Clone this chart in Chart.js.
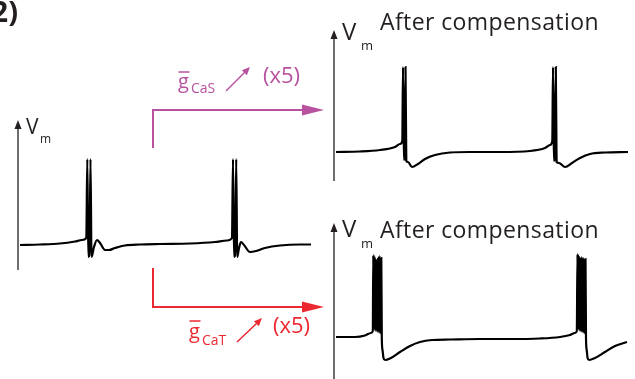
<!DOCTYPE html>
<html>
<head>
<meta charset="utf-8">
<script src="https://cdn.jsdelivr.net/npm/chart.js@4.4.1/dist/chart.umd.min.js"></script>
<style>
  body { margin: 0; background: #fff; }
  #fig { position: relative; width: 635px; height: 379px; overflow: hidden; font-family: "Open Sans", sans-serif; }
  .panel { position: absolute; }
  #labels { position: absolute; left: 0; top: 0; pointer-events: none; }
</style>
</head>
<body>
<div id="fig">
  <div class="panel" style="left:14px;top:120px;width:299px;height:150px"><canvas id="ctrl"></canvas></div>
  <div class="panel" style="left:330px;top:30px;width:300px;height:151px"><canvas id="cas"></canvas></div>
  <div class="panel" style="left:330px;top:223px;width:300px;height:156px"><canvas id="cat"></canvas></div>

  <svg id="labels" width="635" height="379" font-family="Open Sans, sans-serif">
    <text x="18" y="22" text-anchor="end" font-size="29" font-weight="bold" fill="#231f20">2)</text>

    <text x="26" y="134" font-size="21" fill="#231f20">V</text>
    <text x="40" y="143" font-size="12" fill="#231f20">m</text>

    <text x="342" y="40" font-size="24" fill="#231f20">V</text>
    <text x="361" y="50" font-size="13" fill="#231f20">m</text>
    <text x="380" y="30" font-size="23" letter-spacing="0.4" fill="#231f20">After compensation</text>

    <text x="342" y="237" font-size="24" fill="#231f20">V</text>
    <text x="361" y="248" font-size="13" fill="#231f20">m</text>
    <text x="380" y="238" font-size="23" letter-spacing="0.4" fill="#231f20">After compensation</text>

    <!-- CaS branch -->
    <g fill="#b8529f" stroke="#b8529f">
      <path d="M153,148 V110 H304" fill="none" stroke-width="2"/>
      <polygon points="324,110 302,104.5 302,115.5" stroke="none"/>
      <text x="178" y="88" font-size="20" stroke="none">g</text>
      <line x1="178.5" y1="72" x2="189.5" y2="72" stroke-width="1.5"/>
      <text x="191" y="93" font-size="14" stroke="none">CaS</text>
      <line x1="226" y1="91" x2="244.5" y2="72.5" stroke-width="1.5"/>
      <polygon points="250,67 246.8,75.2 241.9,70.2" stroke="none"/>
      <text x="263" y="83" font-size="22" stroke="none">(x5)</text>
    </g>

    <!-- CaT branch -->
    <g fill="#ec2830" stroke="#ec2830">
      <path d="M153,268 V307 H304" fill="none" stroke-width="2"/>
      <polygon points="324,307 302,301.5 302,312.5" stroke="none"/>
      <text x="189" y="338" font-size="20" stroke="none">g</text>
      <line x1="189.5" y1="321" x2="200.5" y2="321" stroke-width="1.5"/>
      <text x="202" y="345" font-size="14" stroke="none">CaT</text>
      <line x1="237" y1="342" x2="256.5" y2="323.5" stroke-width="1.5"/>
      <polygon points="262,318 258.8,326.2 253.9,321.2" stroke="none"/>
      <text x="273" y="333" font-size="22" stroke="none">(x5)</text>
    </g>
  </svg>
</div>

<script>
// control trace: time (ms) and membrane potential (mV)
const ctrlTime = [20, 220, 420, 570, 640, 683, 693, 703, 715, 725, 735, 760, 790, 820, 870, 910, 970, 1070, 1220, 1420, 1720, 1970, 2090, 2140, 2150, 2160, 2172, 2182, 2192, 2210, 2230, 2260, 2320, 2380, 2470, 2620, 2820, 2930];
const ctrlVm   = [-51, -50.5, -49.5, -47.5, -46, -44, 35, -63, -61, 35, -63, -53, -46, -49, -56, -56, -54, -51.5, -50.5, -50, -49.5, -48, -46.5, -44, 35, -63, -61, 35, -63, -54, -48, -51, -58, -57, -54, -51.5, -50.5, -50.5];

// gCaS x5 after compensation
const casTime = [30, 270, 470, 620, 670, 693, 700, 708, 717, 725, 733, 750, 790, 850, 920, 1020, 1170, 1370, 1670, 1970, 2120, 2170, 2193, 2200, 2208, 2217, 2228, 2236, 2260, 2320, 2390, 2470, 2570, 2720, 2950];
const casVm   = [-50, -49.5, -48, -45, -42, -39, 35, -58, -56, 35, -59, -60, -65, -62, -57, -53, -50.5, -50, -50, -49, -46, -43, -39, 35, -59, -57, 35, -60, -61, -65, -61, -56, -52, -50.5, -50];

// gCaT x5 after compensation (bursting)
const catTime = [30, 220, 320, 380, 398,
  403, 408, 413, 418, 423, 428, 433, 438, 443, 448, 453, 458, 463, 468, 473, 478, 483, 488,
  495, 505, 520, 570, 670, 770, 870, 990, 1170, 1470, 1770, 2070, 2270, 2370, 2420, 2438,
  2445, 2450, 2455, 2460, 2465, 2470, 2475, 2480, 2485, 2490, 2495, 2500, 2505, 2510, 2515, 2520, 2525, 2530,
  2537, 2546, 2560, 2620, 2720, 2820, 2940];
const catVm = [-49, -49, -47.5, -45, -43,
  33, -40, 32, -42, 30, -43, 28, -43, 29, -44, 31, -44, 32, -45, 31, -46, 30, -50,
  -62, -70, -72, -70.5, -64, -58, -54, -52, -51.5, -51, -51, -50.5, -49, -47, -45, -43,
  34, -40, 33, -42, 31, -43, 30, -43, 31, -44, 30, -44, 30, -45, 29, -46, 29, -50,
  -62, -70, -72, -70, -64, -58, -54];

// vertical Vm axis with an arrow head on top
const vmAxis = {
  id: 'vmAxis',
  afterDraw(chart) {
    const { ctx, chartArea: a } = chart;
    ctx.save();
    ctx.strokeStyle = '#231f20';
    ctx.fillStyle = '#231f20';
    ctx.lineWidth = 1.3;
    ctx.beginPath();
    ctx.moveTo(a.left, a.top + 6);
    ctx.lineTo(a.left, a.bottom);
    ctx.stroke();
    ctx.beginPath();
    ctx.moveTo(a.left, a.top);
    ctx.lineTo(a.left - 3.5, a.top + 9);
    ctx.lineTo(a.left + 3.5, a.top + 9);
    ctx.closePath();
    ctx.fill();
    ctx.restore();
  }
};

function trace(id, times, vm, xMin, xMax, yMin, yMax) {
  return new Chart(document.getElementById(id), {
    type: 'line',
    data: {
      datasets: [{
        data: times.map((t, i) => ({ x: t, y: vm[i] })),
        borderColor: '#000',
        borderWidth: 2.2,
        pointRadius: 0,
        cubicInterpolationMode: 'monotone',
        fill: false
      }]
    },
    options: {
      responsive: true,
      maintainAspectRatio: false,
      animation: false,
      events: [],
      layout: { padding: { left: 4, right: 0, top: 0, bottom: 0 } },
      plugins: { legend: { display: false }, tooltip: { enabled: false } },
      scales: {
        x: { type: 'linear', min: xMin, max: xMax, display: false },
        y: { min: yMin, max: yMax, display: false }
      }
    },
    plugins: [vmAxis]
  });
}

trace('ctrl', ctrlTime, ctrlVm, 0, 2950, -76, 74);
trace('cas', casTime, casVm, 10, 2970, -79, 72);
trace('cat', catTime, catVm, 10, 2970, -91, 65);
</script>
</body>
</html>
